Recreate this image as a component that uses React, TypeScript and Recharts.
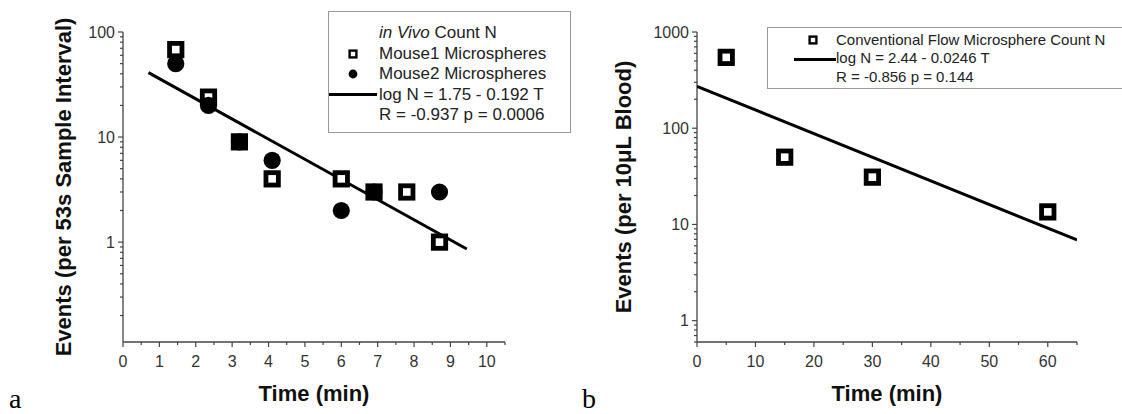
import React from 'react';
import { Label, Scatter, ScatterChart, XAxis, YAxis } from 'recharts';

// panel a: in vivo counts (time in min, events per 53 s)
const timeM1 = [1.45, 2.35, 3.2, 4.1, 6.0, 6.9, 7.8, 8.7];
const countM1 = [68, 24, 9, 4, 4, 3, 3, 1];
const timeM2 = [1.45, 2.35, 3.2, 4.1, 6.0, 6.9, 8.7];
const countM2 = [50, 20, 9, 6, 2, 3, 3];
const fitTimeA = [0.7, 9.45];
const fitCountA = [41, 0.86];

// panel b: conventional flow counts (events per 10 uL blood)
const timeFlow = [5, 15, 30, 60];
const countFlow = [545, 50, 31, 13.5];
const fitTimeB = [0, 65];
const fitCountB = [272, 6.9];

const xTicksA = [0, 1, 2, 3, 4, 5, 6, 7, 8, 9, 10];
const yTicksA = [1, 10, 100];
const xTicksB = [0, 10, 20, 30, 40, 50, 60];
const yTicksB = [1, 10, 100, 1000];

const FONT = '"Liberation Sans", Arial, sans-serif';
const SERIF = '"Liberation Serif", "Times New Roman", serif';
const AXIS = '#444';
const TEXT = '#333';

const pts = (ts: number[], ns: number[]) => ts.map((t, i) => ({ t, n: ns[i] }));

// minor ticks: even steps on x, 2..9 per decade on the log axis
const stepTicks = (max: number, step: number) => {
  const out: number[] = [];
  for (let v = 0; v <= max + 1e-9; v += step) out.push(+v.toFixed(3));
  return out;
};
const logTicks = (lo: number, hi: number, major: number[]) => {
  const out: number[] = [...major];
  for (let d = 0.1; d < hi; d *= 10) {
    for (let k = 2; k < 10; k++) {
      const v = +(k * d).toPrecision(3);
      if (v >= lo && v <= hi) out.push(v);
    }
  }
  return out.sort((a, b) => a - b);
};

function xTick(major: number[]) {
  return (props: any) => {
    const { x, y, payload } = props;
    const isMajor = major.includes(payload.value);
    return (
      <g>
        <line x1={x} x2={x} y1={y} y2={y + (isMajor ? 5 : 3)} stroke={AXIS} strokeWidth={1.2} />
        {isMajor && (
          <text x={x} y={y + 25} textAnchor="middle" fontSize={16} fill={TEXT} fontFamily={FONT}>
            {payload.value}
          </text>
        )}
      </g>
    );
  };
}

function yTick(major: number[]) {
  return (props: any) => {
    const { x, y, payload } = props;
    const isMajor = major.includes(payload.value);
    return (
      <g>
        <line x1={x} x2={x - (isMajor ? 5 : 3)} y1={y} y2={y} stroke={AXIS} strokeWidth={1.2} />
        {isMajor && (
          <text x={x - 8} y={y} dy="0.36em" textAnchor="end" fontSize={16} fill={TEXT} fontFamily={FONT}>
            {payload.value}
          </text>
        )}
      </g>
    );
  };
}

const xTitle = (props: any) => {
  const { viewBox } = props;
  return (
    <text x={viewBox.x + viewBox.width / 2} y={viewBox.y + 59} textAnchor="middle" fontSize={22}
      fontWeight="bold" fill="#111" fontFamily={FONT}>
      Time (min)
    </text>
  );
};

const yTitle = (text: string, cx: number) => (props: any) => {
  const { viewBox } = props;
  const cy = viewBox.y + viewBox.height / 2;
  return (
    <text x={cx} y={cy} dy="0.36em" transform={`rotate(-90 ${cx} ${cy})`} textAnchor="middle"
      fontSize={22} fontWeight="bold" fill="#111" fontFamily={FONT}>
      {text}
    </text>
  );
};

const OpenSquare = (props: any) => (
  <rect x={props.cx - 6.2} y={props.cy - 6.2} width={12.4} height={12.4} fill="#fff" stroke="#000" strokeWidth={4.8} />
);
const Dot = (props: any) => <circle cx={props.cx} cy={props.cy} r={8.6} fill="#000" />;
const NoShape = () => <g />;

const MiniSquare = () => (
  <svg width={10} height={10} style={{ display: 'block' }}>
    <rect x={1.6} y={1.6} width={6.8} height={6.8} fill="#fff" stroke="#000" strokeWidth={2.4} />
  </svg>
);
const MiniDot = () => (
  <svg width={10} height={10} style={{ display: 'block' }}>
    <circle cx={5} cy={5} r={4.4} fill="#000" />
  </svg>
);

export default function App() {
  const textA = { position: 'absolute' as const, left: 50, fontSize: 17, color: '#222', whiteSpace: 'nowrap' as const, lineHeight: '20px' };
  const textB = { position: 'absolute' as const, left: 68, fontSize: 15, color: '#222', whiteSpace: 'nowrap' as const, lineHeight: '18px' };
  const panelLetter = { position: 'absolute' as const, top: 386, fontFamily: SERIF, fontSize: 28, lineHeight: '26px' };
  return (
    <div style={{ position: 'absolute', left: 0, top: 0, width: 1122, height: 414, background: '#fff', fontFamily: FONT, overflow: 'hidden' }}>
      <div style={{ position: 'absolute', left: 0, top: 0 }}>
        <ScatterChart width={560} height={414} margin={{ top: 32, right: 55, bottom: 0, left: 0 }}>
          <XAxis type="number" dataKey="t" domain={[0, 10.5]} allowDataOverflow ticks={stepTicks(10.5, 0.5)}
            interval={0} tickLine={false} tickSize={0} tickMargin={0} tick={xTick(xTicksA)} height={72}
            axisLine={{ stroke: AXIS, strokeWidth: 1.3 }}>
            <Label content={xTitle} />
          </XAxis>
          <YAxis type="number" dataKey="n" scale="log" domain={[0.112, 100]} allowDataOverflow
            ticks={logTicks(0.112, 100, yTicksA)} interval={0} tickLine={false} tickSize={0} tickMargin={0}
            tick={yTick(yTicksA)} width={123} axisLine={{ stroke: AXIS, strokeWidth: 1.3 }}>
            <Label content={yTitle('Events (per 53s Sample Interval)', 63)} />
          </YAxis>
          <Scatter data={pts(fitTimeA, fitCountA)} line={{ stroke: '#000', strokeWidth: 3 }} shape={NoShape} isAnimationActive={false} />
          <Scatter data={pts(timeM1, countM1)} shape={OpenSquare} isAnimationActive={false} />
          <Scatter data={pts(timeM2, countM2)} shape={Dot} isAnimationActive={false} />
        </ScatterChart>
      </div>

      <div style={{ position: 'absolute', left: 560, top: 0 }}>
        <ScatterChart width={562} height={414} margin={{ top: 32, right: 45, bottom: 0, left: 0 }}>
          <XAxis type="number" dataKey="t" domain={[0, 65]} allowDataOverflow ticks={stepTicks(65, 5)}
            interval={0} tickLine={false} tickSize={0} tickMargin={0} tick={xTick(xTicksB)} height={72}
            axisLine={{ stroke: AXIS, strokeWidth: 1.3 }}>
            <Label content={xTitle} />
          </XAxis>
          <YAxis type="number" dataKey="n" scale="log" domain={[0.6, 1000]} allowDataOverflow
            ticks={logTicks(0.6, 1000, yTicksB)} interval={0} tickLine={false} tickSize={0} tickMargin={0}
            tick={yTick(yTicksB)} width={137} axisLine={{ stroke: AXIS, strokeWidth: 1.3 }}>
            <Label content={yTitle('Events (per 10\u03bcL Blood)', 63)} />
          </YAxis>
          <Scatter data={pts(fitTimeB, fitCountB)} line={{ stroke: '#000', strokeWidth: 3 }} shape={NoShape} isAnimationActive={false} />
          <Scatter data={pts(timeFlow, countFlow)} shape={OpenSquare} isAnimationActive={false} />
        </ScatterChart>
      </div>

      {/* legend a */}
      <div style={{ position: 'absolute', left: 328, top: 11, width: 243, height: 122, border: '1.5px solid #999', boxSizing: 'border-box' }}>
        <div style={{ ...textA, top: 11 }}><i>in Vivo</i> Count N</div>
        <div style={{ position: 'absolute', left: 19, top: 37 }}><MiniSquare /></div>
        <div style={{ ...textA, top: 32 }}>Mouse1 Microspheres</div>
        <div style={{ position: 'absolute', left: 19, top: 57 }}><MiniDot /></div>
        <div style={{ ...textA, top: 52 }}>Mouse2 Microspheres</div>
        <div style={{ position: 'absolute', left: 0, top: 81, width: 48, height: 3, background: '#000' }} />
        <div style={{ ...textA, top: 73 }}>log N = 1.75 - 0.192 T</div>
        <div style={{ ...textA, top: 93 }}>R = -0.937 p = 0.0006</div>
      </div>

      {/* legend b */}
      <div style={{ position: 'absolute', left: 767, top: 27, width: 370, height: 62, border: '1.5px solid #999', boxSizing: 'border-box' }}>
        <div style={{ position: 'absolute', left: 40, top: 7 }}><MiniSquare /></div>
        <div style={{ ...textB, top: 3 }}>Conventional Flow Microsphere Count N</div>
        <div style={{ position: 'absolute', left: 26, top: 29.5, width: 42, height: 3, background: '#000' }} />
        <div style={{ ...textB, top: 21 }}>log N = 2.44 - 0.0246 T</div>
        <div style={{ ...textB, top: 40 }}>R = -0.856 p = 0.144</div>
      </div>

      <div style={{ ...panelLetter, left: 9 }}>a</div>
      <div style={{ ...panelLetter, left: 582 }}>b</div>
    </div>
  );
}
